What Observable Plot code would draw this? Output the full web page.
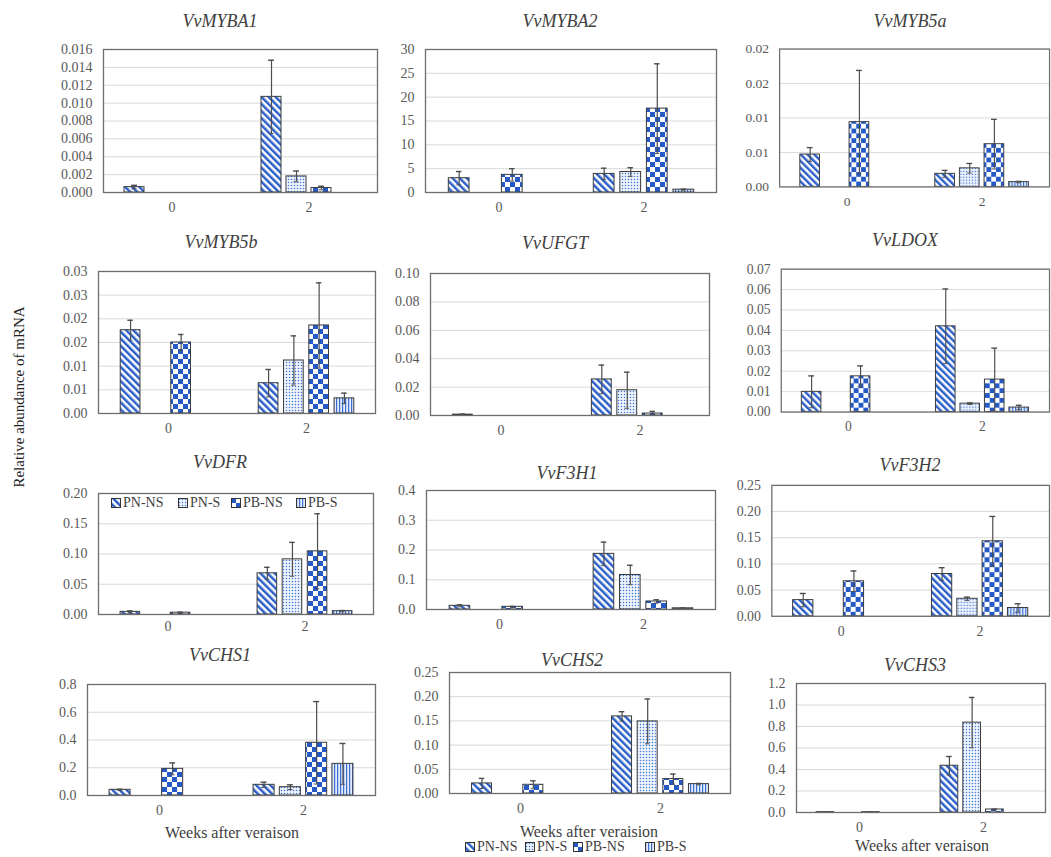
<!DOCTYPE html>
<html>
<head>
<meta charset="utf-8">
<script src="https://cdn.jsdelivr.net/npm/d3@7"></script>
<script src="https://cdn.jsdelivr.net/npm/@observablehq/plot@0.6"></script>
<style>
html, body { margin: 0; padding: 0; background: #fff; overflow: hidden; }
#root { position: relative; width: 1051px; height: 857px; overflow: hidden; background: #fff;
  font-family: "Liberation Serif", "Times New Roman", Times, "Noto Serif", "DejaVu Serif", Tinos, FreeSerif, serif; }
.title { position: absolute; transform: translate(-50%, -50%); font-style: italic; font-size: 18px; color: #404040; white-space: nowrap; }
.panel { position: absolute; }
.xlab { position: absolute; transform: translate(-50%, -50%); font-size: 16px; color: #404040; white-space: nowrap; }
.ylab { position: absolute; transform: translate(-50%, -50%) rotate(-90deg); font-size: 15px; color: #222; white-space: nowrap; }
.legend { position: absolute; display: flex; align-items: center; font-size: 14px; color: #404040; white-space: nowrap; transform: translateY(-50%); }
.legend svg { margin-right: 1px; }
</style>
</head>
<body>
<svg width="0" height="0" style="position:absolute">
  <defs>
    <pattern id="pat0" patternUnits="userSpaceOnUse" width="5" height="5" patternTransform="rotate(-45)">
      <rect width="5" height="5" fill="#ffffff"/>
      <rect width="2.5" height="5" fill="#2b5fc7"/>
    </pattern>
    <pattern id="pat1" patternUnits="userSpaceOnUse" width="3" height="3">
      <rect width="3" height="3" fill="#eef3fc"/>
      <circle cx="1.5" cy="1.5" r="0.75" fill="#3f75d3"/>
    </pattern>
    <pattern id="pat2" patternUnits="userSpaceOnUse" width="10" height="10">
      <rect width="10" height="10" fill="#ffffff"/>
      <rect width="5" height="5" fill="#2459c6"/>
      <rect x="5" y="5" width="5" height="5" fill="#2459c6"/>
    </pattern>
    <pattern id="pat3" patternUnits="userSpaceOnUse" width="3" height="3">
      <rect width="3" height="3" fill="#e4ecfa"/>
      <rect width="1.2" height="3" fill="#3a6fd0"/>
    </pattern>
  </defs>
</svg>
<div id="root"></div>
<script>
// ---------- data ----------
const weeks = ["0", "2"];
const series = ["PN-NS", "PN-S", "PB-NS", "PB-S"];
const genes = ["VvMYBA1", "VvMYBA2", "VvMYB5a", "VvMYB5b", "VvUFGT", "VvLDOX",
               "VvDFR", "VvF3H1", "VvF3H2", "VvCHS1", "VvCHS2", "VvCHS3"];

// values ordered: week 0 [PN-NS, PN-S, PB-NS, PB-S], week 2 [PN-NS, PN-S, PB-NS, PB-S]
const meanMYBA1 = [0.0006, 0, 0, 0, 0.0107, 0.0018, 0.0005, 0];
const errMYBA1  = [0.0002, 0, 0, 0, 0.0041, 0.0006, 0.0002, 0];
const meanMYBA2 = [3.0, 0, 3.7, 0, 3.9, 4.3, 17.6, 0.6];
const errMYBA2  = [1.4, 0, 1.3, 0, 1.2, 0.9, 9.4, 0.1];
const meanMYB5a = [0.0047, 0, 0.0094, 0, 0.0019, 0.0027, 0.0062, 0.0007];
const errMYB5a  = [0.0010, 0, 0.0075, 0, 0.0005, 0.0007, 0.0036, 0.0001];
const meanMYB5b = [0.0176, 0, 0.0150, 0, 0.0064, 0.0112, 0.0186, 0.0032];
const errMYB5b  = [0.0021, 0, 0.0017, 0, 0.0029, 0.0052, 0.0090, 0.0011];
const meanUFGT  = [0.0006, 0, 0, 0, 0.0254, 0.0178, 0.0014, 0];
const errUFGT   = [0.0004, 0, 0, 0, 0.0101, 0.0127, 0.0015, 0];
const meanLDOX  = [0.0099, 0, 0.0175, 0, 0.0420, 0.0041, 0.0159, 0.0022];
const errLDOX   = [0.0078, 0, 0.0051, 0, 0.0183, 0.0004, 0.0154, 0.0011];
const meanDFR   = [0.0044, 0, 0.0030, 0, 0.0681, 0.0912, 0.1044, 0.0055];
const errDFR    = [0.0016, 0, 0.0008, 0, 0.0099, 0.0280, 0.0621, 0.0011];
const meanF3H1  = [0.0124, 0, 0.0090, 0, 0.187, 0.116, 0.027, 0.004];
const errF3H1   = [0.0034, 0, 0.0015, 0, 0.0395, 0.0327, 0.0057, 0.001];
const meanF3H2  = [0.0309, 0, 0.0669, 0, 0.0808, 0.0335, 0.1433, 0.0158];
const errF3H2   = [0.0127, 0, 0.0196, 0, 0.0120, 0.0031, 0.0474, 0.0082];
const meanCHS1  = [0.041, 0, 0.192, 0, 0.077, 0.060, 0.380, 0.228];
const errCHS1   = [0.004, 0, 0.043, 0, 0.019, 0.017, 0.297, 0.147];
const meanCHS2  = [0.0208, 0, 0.0180, 0, 0.1593, 0.1489, 0.0298, 0.0194];
const errCHS2   = [0.0104, 0, 0.0083, 0, 0.0097, 0.0464, 0.0104, 0.0014];
const meanCHS3  = [0.003, 0, 0.003, 0, 0.435, 0.836, 0.028, 0];
const errCHS3   = [0.001, 0, 0.001, 0, 0.086, 0.234, 0.003, 0];

// y ticks and their printed labels
const ticksMYBA1 = [0, 0.002, 0.004, 0.006, 0.008, 0.010, 0.012, 0.014, 0.016];
const labelsMYBA1 = ["0.000", "0.002", "0.004", "0.006", "0.008", "0.010", "0.012", "0.014", "0.016"];
const ticksMYBA2 = [0, 5, 10, 15, 20, 25, 30];
const labelsMYBA2 = ["0", "5", "10", "15", "20", "25", "30"];
const ticksMYB5a = [0, 0.005, 0.01, 0.015, 0.02];
const labelsMYB5a = ["0.00", "0.01", "0.01", "0.02", "0.02"];
const ticksMYB5b = [0, 0.005, 0.01, 0.015, 0.02, 0.025, 0.03];
const labelsMYB5b = ["0.00", "0.01", "0.01", "0.02", "0.02", "0.03", "0.03"];
const ticksUFGT = [0, 0.02, 0.04, 0.06, 0.08, 0.10];
const labelsUFGT = ["0.00", "0.02", "0.04", "0.06", "0.08", "0.10"];
const ticksLDOX = [0, 0.01, 0.02, 0.03, 0.04, 0.05, 0.06, 0.07];
const labelsLDOX = ["0.00", "0.01", "0.02", "0.03", "0.04", "0.05", "0.06", "0.07"];
const ticksDFR = [0, 0.05, 0.10, 0.15, 0.20];
const labelsDFR = ["0.00", "0.05", "0.10", "0.15", "0.20"];
const ticksF3H1 = [0, 0.1, 0.2, 0.3, 0.4];
const labelsF3H1 = ["0.0", "0.1", "0.2", "0.3", "0.4"];
const ticksF3H2 = [0, 0.05, 0.10, 0.15, 0.20, 0.25];
const labelsF3H2 = ["0.00", "0.05", "0.10", "0.15", "0.20", "0.25"];
const ticksCHS1 = [0, 0.2, 0.4, 0.6, 0.8];
const labelsCHS1 = ["0.0", "0.2", "0.4", "0.6", "0.8"];
const ticksCHS2 = [0, 0.05, 0.10, 0.15, 0.20, 0.25];
const labelsCHS2 = ["0.00", "0.05", "0.10", "0.15", "0.20", "0.25"];
const ticksCHS3 = [0, 0.2, 0.4, 0.6, 0.8, 1.0, 1.2];
const labelsCHS3 = ["0.0", "0.2", "0.4", "0.6", "0.8", "1.0", "1.2"];

const xTitles = ["Weeks after veraison", "Weeks after veraision", "Weeks after veraison"];
const legendLabels = series;

// ---------- layout (page pixels) ----------
const FONT = '"Liberation Serif", "Times New Roman", Times, "Noto Serif", "DejaVu Serif", Tinos, FreeSerif, serif';
const patterns = ["url(#pat0)", "url(#pat1)", "url(#pat2)", "url(#pat3)"];
const panels = [
  {gene: genes[0],  mean: meanMYBA1, err: errMYBA1, ticks: ticksMYBA1, labels: labelsMYBA1, frame: [103, 49, 377, 192], title: [220, 21]},
  {gene: genes[1],  mean: meanMYBA2, err: errMYBA2, ticks: ticksMYBA2, labels: labelsMYBA2, frame: [425, 49, 716, 192], title: [560, 21]},
  {gene: genes[2],  mean: meanMYB5a, err: errMYB5a, ticks: ticksMYB5a, labels: labelsMYB5a, frame: [782, 49, 1062, 192], title: [910, 21]},
  {gene: genes[3],  mean: meanMYB5b, err: errMYB5b, ticks: ticksMYB5b, labels: labelsMYB5b, frame: [98, 271, 375, 413], title: [221, 242]},
  {gene: genes[4],  mean: meanUFGT,  err: errUFGT,  ticks: ticksUFGT,  labels: labelsUFGT,  frame: [430, 273, 709, 415], title: [555, 243]},
  {gene: genes[5],  mean: meanLDOX,  err: errLDOX,  ticks: ticksLDOX,  labels: labelsLDOX,  frame: [783, 269, 1059, 416], title: [905, 240]},
  {gene: genes[6],  mean: meanDFR,   err: errDFR,   ticks: ticksDFR,   labels: labelsDFR,   frame: [98, 493, 373, 614], title: [220, 462], xPad: 7},
  {gene: genes[7],  mean: meanF3H1,  err: errF3H1,  ticks: ticksF3H1,  labels: labelsF3H1,  frame: [426, 490, 715, 609], title: [567, 473]},
  {gene: genes[8],  mean: meanF3H2,  err: errF3H2,  ticks: ticksF3H2,  labels: labelsF3H2,  frame: [772, 485, 1052, 617], title: [910, 465]},
  {gene: genes[9],  mean: meanCHS1,  err: errCHS1,  ticks: ticksCHS1,  labels: labelsCHS1,  frame: [87, 684, 375, 795], title: [220, 655]},
  {gene: genes[10], mean: meanCHS2,  err: errCHS2,  ticks: ticksCHS2,  labels: labelsCHS2,  frame: [449, 672, 730, 793], title: [572, 660]},
  {gene: genes[11], mean: meanCHS3,  err: errCHS3,  ticks: ticksCHS3,  labels: labelsCHS3,  frame: [796, 683, 1045, 812], title: [915, 665]}
];

const root = document.getElementById("root");

function drawPanel(p) {
  const [L, T, R, B] = p.frame;
  const ml = 80, mr = 2, mt = 12, mb = 34;
  const innerW = R - L, innerH = B - T;
  const step = innerW / weeks.length;
  const barW = step * 0.146, gap = step * 0.1825;
  const rows = [];
  weeks.forEach((wk, wi) => series.forEach((s, si) => {
    const m = p.mean[wi * series.length + si], e = p.err[wi * series.length + si];
    rows.push({week: wk, series: s, si, mean: m, lo: Math.max(0, m - e), hi: m + e});
  }));
  const marks = [Plot.ruleY(p.ticks, {stroke: "#d9d9d9", strokeWidth: 1})];
  series.forEach((s, si) => {
    const d = rows.filter(r => r.si === si && r.mean > 0);
    const off = (si - 1.5) * gap;
    marks.push(Plot.barY(d, {x: "week", y: "mean", fill: patterns[si], stroke: "#3b3b3b", strokeWidth: 1,
      insetLeft: step / 2 + off - barW / 2, insetRight: step / 2 - off - barW / 2}));
    marks.push(Plot.ruleX(d, {x: "week", y1: "lo", y2: "hi", dx: off, stroke: "#4d4d4d", strokeWidth: 1.2}));
    marks.push(Plot.tickY(d, {x: "week", y: "hi", stroke: "#4d4d4d", strokeWidth: 1.4,
      insetLeft: step / 2 + off - 3, insetRight: step / 2 - off - 3}));
    marks.push(Plot.tickY(d, {x: "week", y: "lo", stroke: "#4d4d4d", strokeWidth: 1,
      insetLeft: step / 2 + off - 2.5, insetRight: step / 2 - off - 2.5}));
  });
  marks.push(Plot.frame({stroke: "#6d6d6d", strokeWidth: 1.3}));
  marks.push(Plot.axisY({ticks: p.ticks, tickSize: 0, tickPadding: 11,
    tickFormat: d => p.labels[p.ticks.indexOf(d)]}));
  marks.push(Plot.axisX({tickSize: 0, tickPadding: p.xPad ?? 10}));

  const svg = Plot.plot({
    width: innerW + ml + mr,
    height: innerH + mt + mb,
    marginLeft: ml, marginRight: mr, marginTop: mt, marginBottom: mb,
    x: {domain: weeks, padding: 0, label: null},
    y: {domain: [0, p.ticks[p.ticks.length - 1]], label: null},
    style: {fontFamily: FONT, fontSize: "14px",
            color: "#595959", background: "transparent", overflow: "visible"},
    marks
  });
  const wrap = document.createElement("div");
  wrap.className = "panel";
  wrap.style.left = (L - ml) + "px";
  wrap.style.top = (T - mt) + "px";
  wrap.appendChild(svg);
  root.appendChild(wrap);

  const t = document.createElement("div");
  t.className = "title";
  t.style.left = p.title[0] + "px";
  t.style.top = p.title[1] + "px";
  t.textContent = p.gene;
  root.appendChild(t);
}
panels.forEach(drawPanel);

// axis titles
function addText(cls, text, x, y) {
  const d = document.createElement("div");
  d.className = cls;
  d.style.left = x + "px";
  d.style.top = y + "px";
  d.textContent = text;
  root.appendChild(d);
  return d;
}
addText("ylab", "Relative abundance of mRNA", 19, 397);
addText("xlab", xTitles[0], 232, 833);
addText("xlab", xTitles[1], 589, 832);
addText("xlab", xTitles[2], 922, 846);

// legends: item start positions (page x)
function addLegend(xs, y) {
  legendLabels.forEach((lab, i) => {
    const it = document.createElement("div");
    it.className = "legend";
    it.style.left = xs[i] + "px";
    it.style.top = y + "px";
    it.innerHTML = `<svg width="11" height="11"><rect x="0.5" y="0.5" width="9" height="9" fill="${patterns[i]}" stroke="#333" stroke-width="1"/></svg><span>${lab}</span>`;
    root.appendChild(it);
  });
}
addLegend([111, 178, 231, 296], 503);
addLegend([465, 525, 573, 645], 847);
</script>
</body>
</html>
